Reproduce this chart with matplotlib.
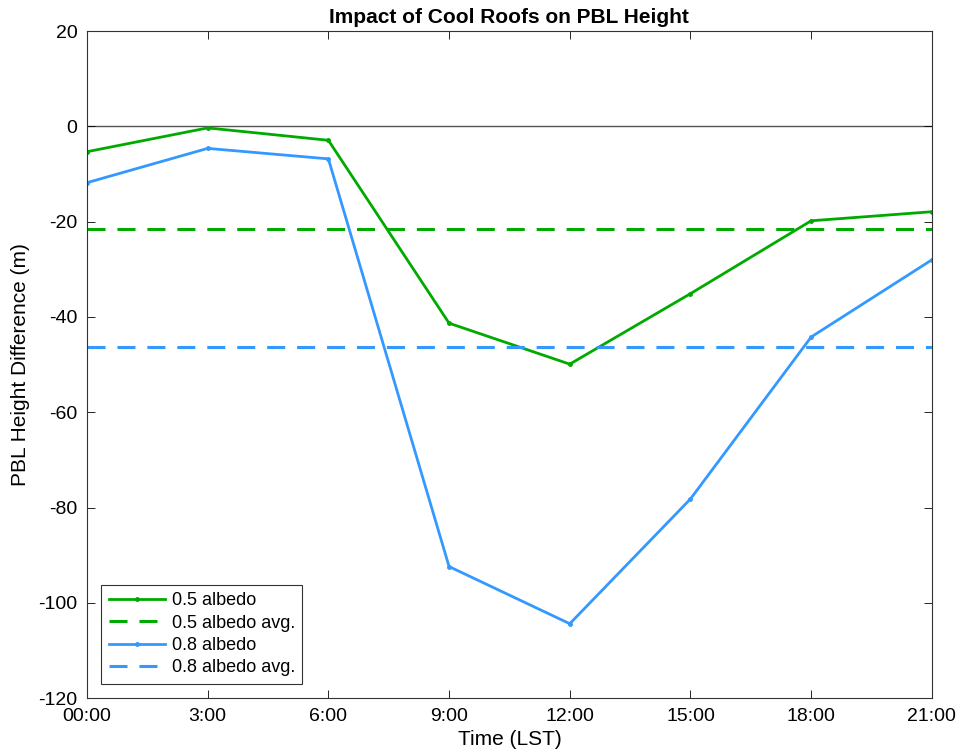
import numpy as np
import matplotlib
matplotlib.use("Agg")
from matplotlib import pyplot as plt

plt.rcParams['font.family'] = ['Liberation Sans', 'DejaVu Sans']
plt.rcParams['axes.unicode_minus'] = False

# Data
hours = [0, 3, 6, 9, 12, 15, 18, 21]
tick_labels = ['00:00', '3:00', '6:00', '9:00', '12:00', '15:00', '18:00', '21:00']
albedo_05 = [-5.3, -0.3, -2.9, -41.3, -49.9, -35.1, -19.8, -17.9]
albedo_08 = [-11.8, -4.6, -6.8, -92.4, -104.4, -78.2, -44.2, -28.0]
avg_05 = -21.6
avg_08 = -46.3

green = '#00AA00'
blue = '#3399FF'

fig = plt.figure(figsize=(9.59, 7.56), dpi=100)
ax = fig.add_axes([0.0907, 0.0767, 0.881, 0.882])

ax.axhline(0, color='#555555', linewidth=1.0, zorder=1)
ax.plot(hours, albedo_05, '.-', color=green, linewidth=2, markersize=5, label='0.5 albedo')
ax.plot([hours[0], hours[-1]], [avg_05, avg_05], '--', color=green, linewidth=2.2,
        dashes=(5.9, 3.9), label='0.5 albedo avg.')
ax.plot(hours, albedo_08, '.-', color=blue, linewidth=2, markersize=5, label='0.8 albedo')
ax.plot([hours[0], hours[-1]], [avg_08, avg_08], '--', color=blue, linewidth=2.2,
        dashes=(5.9, 3.9), label='0.8 albedo avg.')

ax.set_xlim(0, 21)
ax.set_ylim(-120, 20)
ax.set_xticks(hours)
ax.set_xticklabels(tick_labels)
ax.set_yticks(np.arange(-120, 21, 20))
ax.tick_params(direction='in', top=True, right=True, labelsize=14, length=6, width=0.6, pad=7)
for s in ax.spines.values():
    s.set_linewidth(0.8)
    s.set_color('#333333')

ax.set_title('Impact of Cool Roofs on PBL Height', fontsize=15, fontweight='bold', pad=6)
ax.set_xlabel('Time (LST)', fontsize=15, labelpad=4)
ax.set_ylabel('PBL Height Difference (m)', fontsize=15, labelpad=6)

leg = ax.legend(loc='lower left', fontsize=13, fancybox=False, edgecolor='#333333',
                framealpha=1, handlelength=3.1, handletextpad=0.4, borderaxespad=0.8,
                labelspacing=0.3)
leg.get_frame().set_linewidth(0.8)

plt.savefig('out.png', dpi=100)
